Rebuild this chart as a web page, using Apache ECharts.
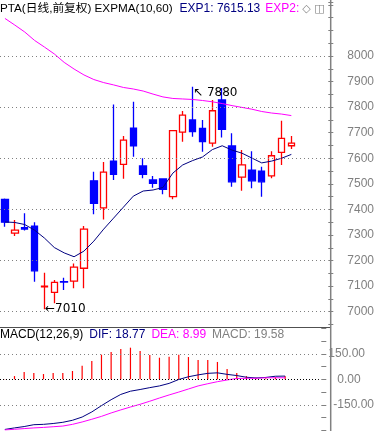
<!DOCTYPE html>
<html>
<head>
<meta charset="utf-8">
<script src="https://cdn.jsdelivr.net/npm/echarts@6/dist/echarts.min.js"></script>
<style>
html, body { margin: 0; padding: 0; background: #fff; }
#chart { width: 377px; height: 431px; }
</style>
</head>
<body>
<div id="chart"></div>
<script>
// 30 trading days + 3 empty slots on the right
const days = ['d1','d2','d3','d4','d5','d6','d7','d8','d9','d10',
  'd11','d12','d13','d14','d15','d16','d17','d18','d19','d20',
  'd21','d22','d23','d24','d25','d26','d27','d28','d29','d30',
  'e1','e2','e3']

const opens  = [7439,7307,7329,7335,7097,7076,7118,7120,7170,7512,7406,7589,7576,7718,7570,7515,7519,7450,7702,7750,7717,7659,7828,7648,7526,7554,7550,7531,7623,7649]
const closes = [7350,7319,7323,7160,7100,7115,7116,7174,7323,7424,7546,7537,7671,7649,7537,7502,7479,7708,7769,7704,7665,7786,7713,7508,7574,7512,7508,7610,7678,7659]
const lows   = [7332,7296,7318,7117,7010,7033,7085,7092,7092,7381,7361,7515,7520,7606,7522,7485,7459,7440,7665,7684,7626,7645,7681,7489,7473,7483,7450,7522,7574,7636]
const highs  = [7443,7359,7385,7350,7152,7124,7133,7189,7335,7547,7585,7810,7687,7821,7600,7531,7522,7711,7785,7880,7750,7828,7875,7698,7632,7628,7567,7628,7747,7687]

// EXPMA(10,60)
const exp1 = [7351,7349,7341,7319,7288,7251,7230,7215,7237,7276,7323,7366,7409,7452,7472,7476,7486,7542,7574,7591,7605,7634,7649,7632,7620,7601,7582,7589,7600,7615.13]
const exp2 = [8147,8121,8094,8061,8035,8008,7975,7949,7926,7908,7896,7887,7877,7871,7863,7851,7840,7834,7832,7830,7826,7821,7814,7806,7799,7792,7783,7777,7773,7767]

// MACD(12,26,9)
const macd = [2,19,43,37,31,37,37,49,80,108,145,160,178,186,166,143,127,133,145,131,113,113,102,61,37,19,9,6,12,19.58]
const dif  = [-295,-286,-278,-267,-265,-260,-253,-241,-222,-192,-155,-120,-89,-70,-60,-49,-39,-24,-1,15,26,35,38,29,22,12,8,11,18,18.77]
const dea  = [-298,-294,-290,-286,-283,-279,-275,-265,-251,-235,-218,-198,-180,-163,-147,-129,-110,-92,-75,-57,-39,-26,-14,-4,5,6,6,9,9,8.99]

const priceGrid = [7000, 7200, 7400, 7600, 7800, 8000]
const macdGrid = [150, -150]

const FONT = "'Liberation Sans', 'Noto Sans CJK SC', sans-serif"
const dotted = { type: [1, 3], color: '#808080', width: 1 }

const txt = (color, padLeft, size, family) => ({
  color, fontSize: size || 12, fontWeight: 'normal', fontFamily: family || FONT,
  padding: [0, 0, 0, padLeft || 0]
})

const chart = echarts.init(document.getElementById('chart'))

const option = {
  animation: false,
  backgroundColor: '#fff',
  textStyle: { fontFamily: FONT },
  title: [
    {
      left: 0, top: 3, padding: 0,
      text: '{k|PTA(日线,前复权) EXPMA(10,60)}{a|EXP1: 7615.13}{b|EXP2:}{g|◇ ◫}',
      textStyle: {
        fontWeight: 'normal', fontSize: 12,
        rich: {
          k: txt('#000', 0, 11.7),
          a: txt('#000080', 7),
          b: txt('#ff00ff', 5),
          g: txt('#808080', 3, 11, "'DejaVu Sans', sans-serif")
        }
      }
    },
    {
      left: 0, top: 329, padding: 0,
      text: '{k|MACD(12,26,9)}{a|DIF: 18.77}{b|DEA: 8.99}{g|MACD: 19.58}',
      textStyle: {
        fontWeight: 'normal', fontSize: 12,
        rich: {
          k: txt('#000'),
          a: txt('#000080', 6),
          b: txt('#ff00ff', 6),
          g: txt('#808080', 6)
        }
      }
    }
  ],
  grid: [
    { left: -1.7, right: 48.7, top: 2, bottom: 106.5 },
    { left: -1.7, right: 48.7, top: 328.3, bottom: 0.7 }
  ],
  xAxis: [
    { type: 'category', gridIndex: 0, data: days, show: false },
    { type: 'category', gridIndex: 1, data: days, show: false }
  ],
  yAxis: [
    {
      type: 'value', gridIndex: 0, position: 'right', offset: 2.4,
      min: 6950, max: 8211.2, interval: 50,
      axisLine: { show: false },
      axisTick: { show: true, length: 5, lineStyle: { color: '#808080' } },
      splitLine: { show: false },
      axisLabel: {
        margin: 19, align: 'left', color: '#808080', fontSize: 12, fontFamily: FONT,
        formatter: v => (v % 100 === 0 && v >= 7000 && v <= 8000) ? String(v) : ''
      }
    },
    {
      type: 'value', gridIndex: 1, position: 'right', offset: 2.4,
      min: -300, max: 300, interval: 75,
      axisLine: { show: false },
      axisTick: { show: true, length: 5, lineStyle: { color: '#808080' } },
      splitLine: { show: false },
      axisLabel: {
        margin: 7, align: 'left', color: '#808080', fontSize: 12, fontFamily: FONT,
        formatter: v => v === 150 ? '{p|150.00}' : v === 0 ? '{z|0.00}' : v === -150 ? '{n|-150.00}' : '',
        rich: {
          p: { padding: [0, 0, 0, 0], color: '#808080', fontSize: 12, fontFamily: FONT },
          z: { padding: [0, 0, 0, 9], color: '#808080', fontSize: 12, fontFamily: FONT },
          n: { padding: [0, 0, 0, 5], color: '#808080', fontSize: 12, fontFamily: FONT }
        }
      }
    }
  ],
  graphic: [
    { type: 'line', silent: true, shape: { x1: 330.7, y1: 0, x2: 330.7, y2: 431 }, style: { stroke: '#808080', lineWidth: 1.5 } },
    { type: 'line', silent: true, shape: { x1: 0, y1: 327.5, x2: 330, y2: 327.5 }, style: { stroke: '#505050', lineWidth: 1 } }
  ],
  series: [
    {
      type: 'candlestick', xAxisIndex: 0, yAxisIndex: 0,
      barWidth: 7,
      data: opens.map((o, i) => [o, closes[i], lows[i], highs[i]]),
      itemStyle: {
        color: '#ffffff', borderColor: '#ff0000',
        color0: '#0000ff', borderColor0: '#0000ff', borderWidth: 1.3
      },
      markLine: {
        silent: true, symbol: ['none', 'none'], label: { show: false },
        lineStyle: dotted,
        data: priceGrid.map(v => ({ yAxis: v }))
      },
      markPoint: {
        silent: true,
        symbol: 'circle', symbolSize: 1,
        itemStyle: { color: 'rgba(0,0,0,0)' },
        label: { show: true, position: 'right', distance: 0, color: '#000', fontSize: 12, fontFamily: "'DejaVu Sans', sans-serif" },
        data: [
          { coord: [days[19], 7880], label: { formatter: '↖ 7880', offset: [0, 6] } },
          { coord: [days[4], 7010], label: { formatter: '←7010', offset: [0, 0] } }
        ]
      },
      z: 3
    },
    {
      type: 'line', xAxisIndex: 0, yAxisIndex: 0, data: exp1,
      symbol: 'none', lineStyle: { color: '#000080', width: 1 }, z: 4
    },
    {
      type: 'line', xAxisIndex: 0, yAxisIndex: 0, data: exp2,
      symbol: 'none', lineStyle: { color: '#ff00ff', width: 1 }, z: 4
    },
    {
      type: 'bar', xAxisIndex: 1, yAxisIndex: 1, data: macd,
      barWidth: 1.2, itemStyle: { color: '#ff0000' },
      markLine: {
        silent: true, symbol: ['none', 'none'], label: { show: false },
        data: [
          ...macdGrid.map(v => ({ yAxis: v, lineStyle: dotted })),
          { yAxis: 0, lineStyle: { type: [1, 2], color: '#000', width: 1 } }
        ]
      }
    },
    {
      type: 'line', xAxisIndex: 1, yAxisIndex: 1, data: dif,
      symbol: 'none', lineStyle: { color: '#000080', width: 1 }
    },
    {
      type: 'line', xAxisIndex: 1, yAxisIndex: 1, data: dea,
      symbol: 'none', lineStyle: { color: '#ff00ff', width: 1 }
    }
  ]
}

chart.setOption(option)
window.addEventListener('resize', () => chart.resize())
</script>
</body>
</html>
